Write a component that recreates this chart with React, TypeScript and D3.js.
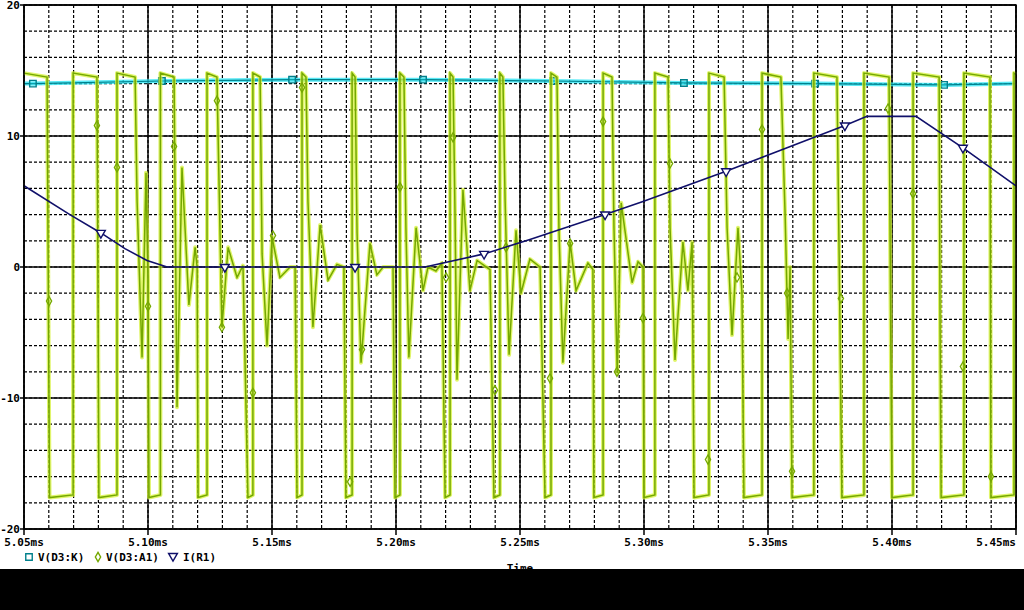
import * as d3 from 'd3';
import * as React from 'react';

// axis ticks
const timeTicks = [5.05, 5.1, 5.15, 5.2, 5.25, 5.3, 5.35, 5.4, 5.45];
const timeLabels = ['5.05ms', '5.10ms', '5.15ms', '5.20ms', '5.25ms', '5.30ms', '5.35ms', '5.40ms', '5.45ms'];
const voltTicks = [20, 10, 0, -10, -20];
const voltLabels = ['20', '10', '0', '-10', '-20'];

// V(D3:K)
const cathodeT = [5.05, 5.0536, 5.1056, 5.1581, 5.2109, 5.2633, 5.3161, 5.369, 5.421, 5.45];
const cathodeV = [14.0, 14.0, 14.2, 14.3, 14.3, 14.2, 14.05, 14.0, 13.9, 14.0];

// V(D3:A1): pulse edges (ms) and ringing between pulses
const highEnd = [5.0593, 5.0794, 5.0948, 5.1105, 5.1278, 5.1452, 5.1637, 5.1835, 5.2032, 5.223,
  5.2431, 5.2649, 5.2871, 5.3097, 5.3323, 5.3552, 5.3778, 5.3988, 5.419, 5.4395];
const lowStart = [5.0603, 5.0802, 5.1004, 5.1202, 5.1403, 5.1601, 5.1798, 5.1996, 5.2198, 5.2395,
  5.2601, 5.2798, 5.3, 5.3202, 5.3403, 5.3597, 5.3798, 5.4, 5.4198, 5.4399];
const highStart = [5.0698, 5.0875, 5.105, 5.1238, 5.1423, 5.1621, 5.1823, 5.2016, 5.2218, 5.2419,
  5.2625, 5.2835, 5.3044, 5.3262, 5.3476, 5.3685, 5.3887, 5.4085, 5.429, 5.4492];
const ringT = [
  [],
  [5.0798],
  [5.0956, 5.0976, 5.0992, 5.1],
  [5.1117, 5.1137, 5.1165, 5.119, 5.1198],
  [5.129, 5.1298, 5.1323, 5.1359, 5.1383],
  [5.146, 5.148, 5.15, 5.1532, 5.1573, 5.1593],
  [5.1645, 5.1665, 5.1694, 5.1726, 5.1762, 5.179],
  [5.1843, 5.1859, 5.1895, 5.1923, 5.1948, 5.1988],
  [5.204, 5.2052, 5.2081, 5.2109, 5.2129, 5.2161, 5.2185],
  [5.2238, 5.2246, 5.227, 5.2298, 5.2327, 5.2379],
  [5.244, 5.2456, 5.2484, 5.2504, 5.254, 5.2581],
  [5.2657, 5.2673, 5.2702, 5.2726, 5.2774, 5.2794],
  [5.2879, 5.2892, 5.2908, 5.2952, 5.2976, 5.2996],
  [5.3105, 5.3125, 5.3157, 5.3177, 5.3194],
  [5.3335, 5.3355, 5.3379, 5.3395],
  [5.3569, 5.3581, 5.3589],
  [5.379],
  [5.3996],
  [5.4194],
  [],
];
const ringV = [
  [],
  [-0.5],
  [5, -6.9, 7.2, -1],
  [-10.7, 7.6, -2.9, 1.5, 0],
  [3, -4.6, 1.5, -0.8, 0.1],
  [1, -6, 2.3, -0.8, 0, 0],
  [5, -4.6, 3.2, -1, 0.2, 0],
  [2.6, -7.3, 1.8, -0.6, 0, 0],
  [3, -6.9, 3, -1.8, 0, -0.3, 0.3],
  [4, -8.6, 5.9, -1.8, 0.5, -0.2],
  [5, -6.7, 2.8, -2, 0.6, 0],
  [3, -7.3, 1.9, -1.8, 0.3, -0.2],
  [3, -8.1, 4.9, -1.2, 0.4, 0],
  [3, -7.1, 1.9, -1.8, 1.9],
  [3, -5.2, 3, -2],
  [4, -5.5, 0],
  [-4],
  [-8],
  [-5],
  [],
];
const highLevel = [14.8, 14.5]; // start, end of a high plateau
const lowLevel = [-17.6, -17.4]; // start, end of a low plateau
const anodeMarkT = [5.0601, 5.0794, 5.0875, 5.1, 5.1105, 5.1278, 5.1298, 5.1423, 5.1504, 5.1621, 5.1815,
  5.1863, 5.2016, 5.2202, 5.223, 5.2399, 5.2444, 5.2621, 5.2702, 5.2835, 5.2891, 5.2996, 5.3105,
  5.3258, 5.3375, 5.3476, 5.3577, 5.3597, 5.3794, 5.3984, 5.4085, 5.4286, 5.4399];
const anodeMarkV = [-2.6, 10.8, 7.6, -3, 9.2, 12.7, -4.6, -9.6, 2.4, 13.7, -16.4,
  -6.3, 6.1, -0.8, 9.9, -9.4, 1.5, -8.5, 1.8, 11.1, -8, -3.9, 7.9,
  -14.7, -0.8, 10.5, -2, -15.6, -2.4, 12.1, 5.6, -7.6, -16];

// I(R1)
const currentT = [5.05, 5.0685, 5.081, 5.0907, 5.0996, 5.1077, 5.1117, 5.2117, 5.2355, 5.254, 5.2843,
  5.2996, 5.3331, 5.3548, 5.381, 5.3899, 5.4097, 5.4286, 5.45];
const currentV = [6.2, 4.0, 2.6, 1.4, 0.5, 0, 0, 0, 1.0, 2.1, 4.0,
  5.0, 7.3, 8.9, 10.8, 11.5, 11.5, 9.1, 6.2];
const currentMarkT = [5.081, 5.131, 5.1835, 5.2355, 5.2843, 5.3331, 5.381, 5.4286];
const currentMarkV = [2.6, 0, 0, 1.0, 4.0, 7.3, 10.8, 9.1];

const W = 1024;
const H = 610;
const FONT = '"DejaVu Sans Mono", monospace';
const CYAN = '#2fe4f2';
const CYAN_DARK = '#00808c';
const GREEN = '#74a800';
const GREEN_HALO = '#d6f23a';
const NAVY = '#10106a';

const x = d3.scaleLinear().domain([5.05, 5.45]).range([24, 1016]);
const y = d3.scaleLinear().domain([-20, 20]).range([529, 5]);

const line = d3
  .line<[number, number]>()
  .x((d) => x(d[0]))
  .y((d) => y(d[1]));

function anodePoints(): [number, number][] {
  const pts: [number, number][] = [[5.05, highLevel[0]]];
  highEnd.forEach((he, k) => {
    pts.push([he, highLevel[1]]);
    ringT[k].forEach((t, i) => pts.push([t, ringV[k][i]]));
    pts.push([lowStart[k], lowLevel[0]]);
    pts.push([highStart[k], lowLevel[1]]);
    pts.push([highStart[k], highLevel[0]]);
  });
  pts.push([5.45, highLevel[0] - 0.1]);
  return pts;
}

const square = d3.symbol(d3.symbolSquare, 42)();
const diamond = d3.symbol(d3.symbolDiamond, 24)();
const triangle = d3.symbol(d3.symbolTriangle, 34)();

export default function App() {
  const cathode = cathodeT.map((t, i) => [t, cathodeV[i]] as [number, number]);
  const current = currentT.map((t, i) => [t, currentV[i]] as [number, number]);
  const anode = anodePoints();
  const minorX = x.ticks(40);
  const minorY = y.ticks(20);

  return (
    <svg
      width={W}
      height={H}
      style={{ position: 'absolute', left: 0, top: 0, background: '#fff' }}
      fontFamily={FONT}
      fontWeight="bold"
      fontSize={11}
    >
      <rect width={W} height={H} fill="#fff" />
      {/* grid */}
      <g stroke="#000" strokeWidth={1.2} strokeDasharray="3 2">
        {minorX.map((t) => (
          <line key={'gx' + t} x1={x(t)} x2={x(t)} y1={5} y2={529} />
        ))}
        {minorY.map((v) => (
          <line key={'gy' + v} x1={24} x2={1016} y1={y(v)} y2={y(v)} />
        ))}
      </g>
      <g stroke="#000" strokeWidth={1.5}>
        {timeTicks.map((t) => (
          <line key={'mx' + t} x1={x(t)} x2={x(t)} y1={5} y2={535} />
        ))}
        {voltTicks.map((v) => (
          <line key={'my' + v} x1={20} x2={1016} y1={y(v)} y2={y(v)} />
        ))}
      </g>

      {/* V(D3:K) */}
      <path d={line(cathode) ?? ''} fill="none" stroke={CYAN} strokeWidth={4} opacity={0.8} />
      <path d={line(cathode) ?? ''} fill="none" stroke={CYAN_DARK} strokeWidth={1.2} />
      {cathode.slice(1, -1).map((d, i) => (
        <path
          key={'cm' + i}
          d={square ?? ''}
          transform={`translate(${x(d[0])},${y(d[1])})`}
          fill={CYAN}
          fillOpacity={0.3}
          stroke={CYAN_DARK}
          strokeWidth={1.4}
        />
      ))}

      {/* V(D3:A1) */}
      <path d={line(anode) ?? ''} fill="none" stroke={GREEN_HALO} strokeWidth={4} opacity={0.75} strokeLinejoin="round" />
      <path d={line(anode) ?? ''} fill="none" stroke={GREEN} strokeWidth={1.5} />
      {anodeMarkT.map((t, i) => (
        <path
          key={'am' + i}
          d={diamond ?? ''}
          transform={`translate(${x(t)},${y(anodeMarkV[i])})`}
          fill="none"
          stroke={GREEN}
          strokeWidth={1.3}
        />
      ))}

      {/* I(R1) */}
      <path d={line(current) ?? ''} fill="none" stroke={NAVY} strokeWidth={1.6} />
      {currentMarkT.map((t, i) => (
        <path
          key={'im' + i}
          d={triangle ?? ''}
          transform={`translate(${x(t)},${y(currentMarkV[i])}) rotate(180)`}
          fill="#fff"
          stroke={NAVY}
          strokeWidth={1.4}
        />
      ))}

      {/* frame */}
      <rect x={24} y={5} width={992} height={524} fill="none" stroke="#000" strokeWidth={1.5} />

      {/* tick labels */}
      {voltTicks.map((v, i) => (
        <text key={'yl' + v} x={20} y={y(v) + 4} textAnchor="end" fill="#000">
          {voltLabels[i]}
        </text>
      ))}
      {timeTicks.map((t, i) => (
        <text
          key={'xl' + t}
          x={i === timeTicks.length - 1 ? 1016 : x(t)}
          y={546}
          textAnchor={i === timeTicks.length - 1 ? 'end' : 'middle'}
          fill="#000"
        >
          {timeLabels[i]}
        </text>
      ))}

      {/* legend */}
      <path d={square ?? ''} transform="translate(29,557)" fill="none" stroke={CYAN_DARK} strokeWidth={1.4} />
      <text x={38} y={561}>V(D3:K)</text>
      <path d={diamond ?? ''} transform="translate(98,557)" fill="none" stroke={GREEN} strokeWidth={1.4} />
      <text x={106} y={561}>V(D3:A1)</text>
      <path d={triangle ?? ''} transform="translate(173,556) rotate(180)" fill="none" stroke={NAVY} strokeWidth={1.4} />
      <text x={183} y={561}>I(R1)</text>

      <text x={520} y={572} textAnchor="middle">Time</text>
      <rect x={0} y={569} width={W} height={H - 569} fill="#000" />
    </svg>
  );
}
